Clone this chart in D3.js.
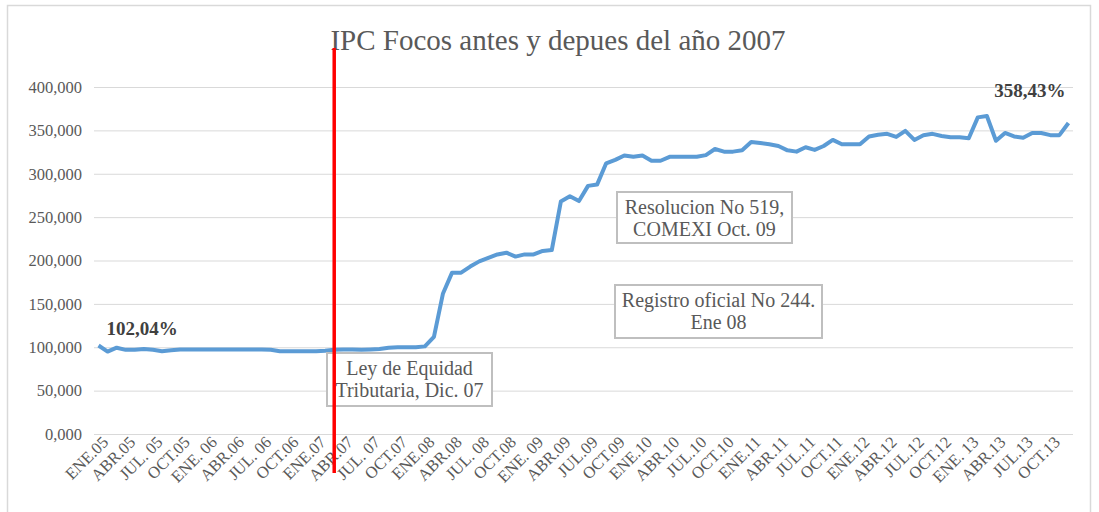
<!DOCTYPE html>
<html>
<head>
<meta charset="utf-8">
<script src="https://cdn.jsdelivr.net/npm/d3@7"></script>
<style>
  body { margin: 0; background: #fff; }
  text { font-family: "Liberation Serif", "Times New Roman", serif; }
</style>
</head>
<body>
<svg id="chart"></svg>
<script>
const w = 1099,
h = 512,
p = { left: 94, right: 1073, top: 87, bottom: 434 },
textColor = "#595959",
gridColor = "#d9d9d9",
lineColor = "#5b9bd5",
es = d3.formatLocale({ decimal: ",", thousands: ".", grouping: [3], currency: ["", ""] });

// months Jan 2005 .. Dec 2013
const monthNames = ["ENE", "FEB", "MAR", "ABR", "MAY", "JUN", "JUL", "AGO", "SEP", "OCT", "NOV", "DIC"];
const years = ["05", "06", "07", "08", "09", "10", "11", "12", "13"];
const months = years.flatMap(yy => monthNames.map(m => `${m}.${yy}`));

// IPC focos
const ipc = [
  102.04, 95, 99.5, 97, 97, 98, 97, 95.5, 96.5, 97.5, 97.5, 97.5,
  97.5, 97.5, 97.5, 97.5, 97.5, 97.5, 97.5, 97, 95.5, 95.5, 95.5, 95.5,
  95.5, 96, 97, 97.5, 97.5, 97, 97.5, 98, 99.5, 100, 100, 100,
  101, 112, 162, 186, 186, 193, 199, 203, 207, 209, 204.5, 207,
  207, 211, 212, 268, 274, 268.5, 286, 287.5, 312, 316, 321, 319.5,
  321, 315, 315, 319.5, 319.5, 319.5, 319.5, 321.5, 328.5, 325.5, 325.5, 327,
  336.5, 335.5, 334, 332, 327, 325.5, 330.5, 327.5, 332, 339, 334, 334,
  334, 343, 345, 346, 342.5, 349.5, 339, 344.5, 346, 343.5, 342, 342,
  341, 365, 366.5, 338, 347, 343, 341.5, 347, 347, 344.5, 344.5, 358.43
];

const tickLabels = [
  "ENE.05", "ABR.05", "JUL. 05", "OCT.05", "ENE. 06", "ABR.06", "JUL. 06", "OCT.06", "ENE.07",
  "ABR.07", "JUL. 07", "OCT.07", "ENE.08", "ABR.08", "JUL. 08", "OCT.08", "ENE. 09", "ABR.09",
  "JUL.09", "OCT.09", "ENE.10", "ABR.10", "JUL.10", "OCT.10", "ENE.11", "ABR.11", "JUL.11",
  "OCT.11", "ENE.12", "ABR.12", "JUL.12", "OCT.12", "ENE. 13", "ABR.13", "JUL.13", "OCT.13"
];
const yTicks = [0, 50, 100, 150, 200, 250, 300, 350, 400];

const notes = [
  { lines: ["Ley de Equidad", "Tributaria, Dic. 07"], box: [327, 353, 492, 406] },
  { lines: ["Resolucion No 519,", "COMEXI Oct. 09"], box: [617, 192, 792, 243] },
  { lines: ["Registro oficial No 244.", "Ene 08"], box: [615, 285, 822, 338] }
];

const x = d3.scalePoint()
    .domain(months)
    .range([p.left, p.right])
    .padding(0.5);

const y = d3.scaleLinear()
    .domain([0, 400])
    .range([p.bottom, p.top]);

const svg = d3.select("#chart")
    .attr("width", w)
    .attr("height", h)
    .attr("viewBox", [0, 0, w, h]);

// chart frame
svg.append("rect")
    .attr("x", 7.5).attr("y", 5.5)
    .attr("width", 1083).attr("height", 520)
    .attr("fill", "#fff")
    .attr("stroke", gridColor)
    .attr("stroke-width", 1.5);

svg.append("text")
    .attr("x", 558).attr("y", 50)
    .attr("text-anchor", "middle")
    .attr("font-size", 29)
    .attr("fill", textColor)
    .text("IPC Focos antes y depues del año 2007");

const yAxis = d3.axisLeft(y)
    .tickValues(yTicks)
    .tickSize(-(p.right - p.left))
    .tickPadding(12)
    .tickFormat(es.format(".3f"));

svg.append("g")
    .attr("transform", `translate(${p.left}, 0)`)
    .call(yAxis)
    .call(g => g.select(".domain").remove())
    .call(g => g.selectAll(".tick line").attr("stroke", gridColor))
    .call(g => g.selectAll(".tick text")
        .attr("font-size", 16.5)
        .attr("font-family", "Liberation Serif")
        .attr("fill", textColor));

const tickMonths = months.filter((m, i) => i % 3 == 0);
const xAxis = d3.axisBottom(x)
    .tickValues(tickMonths)
    .tickSize(0)
    .tickFormat((m, i) => tickLabels[i]);

svg.append("g")
    .attr("transform", `translate(0, ${p.bottom})`)
    .call(xAxis)
    .call(g => g.select(".domain").remove())
    .call(g => g.selectAll(".tick text")
        .attr("font-size", 16.5)
        .attr("font-family", "Liberation Serif")
        .attr("fill", textColor)
        .attr("text-anchor", "end")
        .attr("dy", "0.35em")
        .attr("transform", "translate(4, 3) rotate(-45)"));

const line = d3.line()
    .x((d, i) => x(months[i]))
    .y(d => y(d));

svg.append("path")
    .datum(ipc)
    .attr("d", line)
    .attr("fill", "none")
    .attr("stroke", lineColor)
    .attr("stroke-width", 4)
    .attr("stroke-linejoin", "round");

// start / end labels
svg.append("text")
    .attr("x", x(months[0]) + 8).attr("y", 335)
    .attr("font-size", 19).attr("font-weight", "bold")
    .attr("fill", "#404040")
    .text(`${es.format(".2f")(ipc[0])}%`);

svg.append("text")
    .attr("x", x(months[months.length - 1]) - 3).attr("y", 97)
    .attr("text-anchor", "end")
    .attr("font-size", 19).attr("font-weight", "bold")
    .attr("fill", "#404040")
    .text(`${es.format(".2f")(ipc[ipc.length - 1])}%`);

// text boxes
const note = svg.selectAll(".note")
    .data(notes)
    .enter()
    .append("g")
    .attr("class", "note");

note.append("rect")
    .attr("x", d => d.box[0]).attr("y", d => d.box[1])
    .attr("width", d => d.box[2] - d.box[0])
    .attr("height", d => d.box[3] - d.box[1])
    .attr("fill", "#fff")
    .attr("stroke", "#bfbfbf")
    .attr("stroke-width", 2);

note.append("text")
    .attr("text-anchor", "middle")
    .attr("font-size", 20)
    .attr("fill", textColor)
    .selectAll("tspan")
    .data(d => d.lines.map((t, i) => ({ t, i, d })))
    .enter()
    .append("tspan")
    .attr("x", o => (o.d.box[0] + o.d.box[2]) / 2)
    .attr("y", o => o.d.box[1] + 22 + o.i * 21.5)
    .text(o => o.t);

// red marker, March 2007
svg.append("line")
    .attr("x1", x("MAR.07")).attr("x2", x("MAR.07"))
    .attr("y1", 48).attr("y2", 473)
    .attr("stroke", "#ff0000")
    .attr("stroke-width", 3.5);
</script>
</body>
</html>
